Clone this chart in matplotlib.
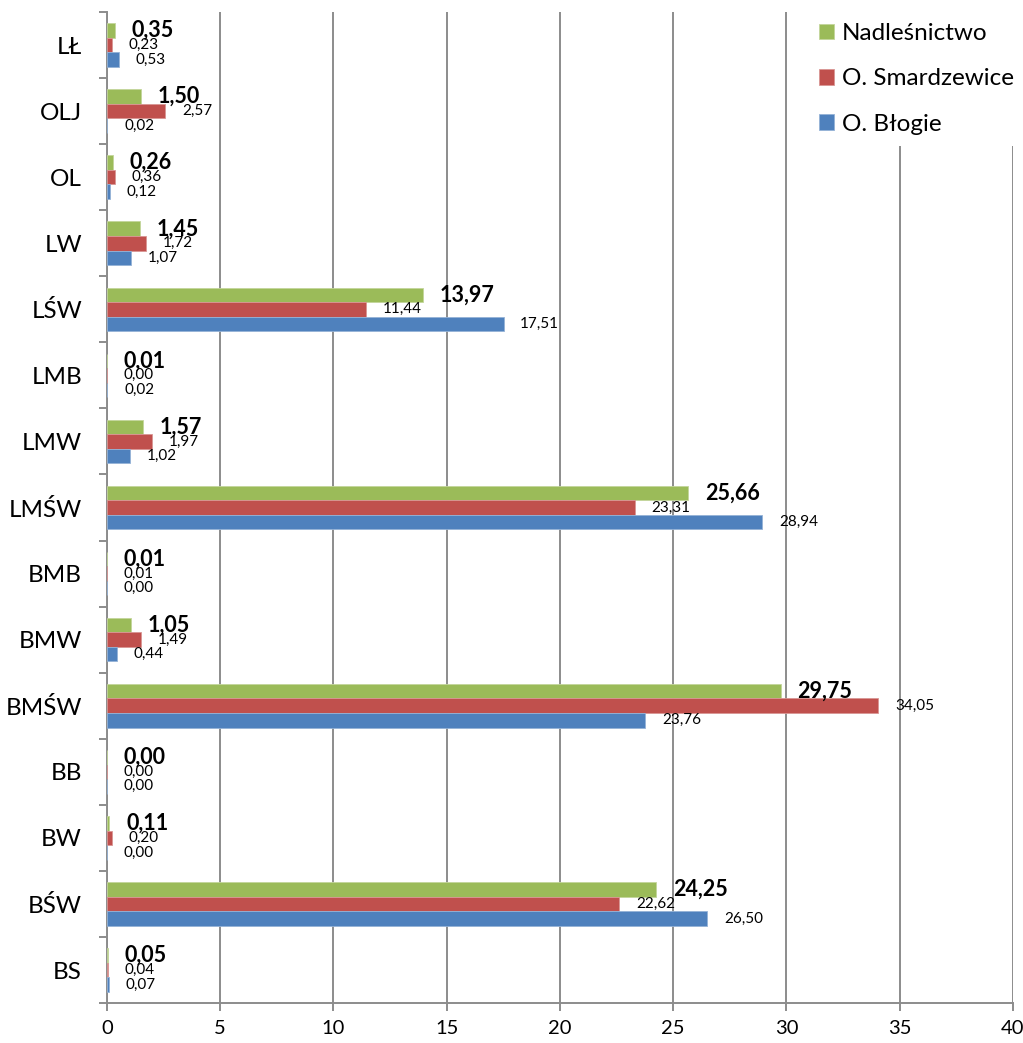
import numpy as np
import matplotlib.pyplot as plt

plt.rcParams['font.family'] = ['Lato', 'DejaVu Sans']

# categories, bottom to top
categories = ['BS', 'BŚW', 'BW', 'BB', 'BMŚW', 'BMW', 'BMB', 'LMŚW',
              'LMW', 'LMB', 'LŚW', 'LW', 'OL', 'OLJ', 'LŁ']
nadlesnictwo = [0.05, 24.25, 0.11, 0.00, 29.75, 1.05, 0.01, 25.66,
                1.57, 0.01, 13.97, 1.45, 0.26, 1.50, 0.35]
smardzewice = [0.04, 22.62, 0.20, 0.00, 34.05, 1.49, 0.01, 23.31,
               1.97, 0.00, 11.44, 1.72, 0.36, 2.57, 0.23]
blogie = [0.07, 26.50, 0.00, 0.00, 23.76, 0.44, 0.00, 28.94,
          1.02, 0.02, 17.51, 1.07, 0.12, 0.02, 0.53]

green = '#9BBB59'
red = '#C0504D'
blue = '#4F81BD'
grid_c = '#8c8c8c'

fig = plt.figure(figsize=(10.23, 10.43), dpi=100)
ax = fig.add_axes([0.1046, 0.0383, 0.8856, 0.9502])

y = np.arange(len(categories))
h = 0.22

bg = ax.barh(y + h, nadlesnictwo, height=h, color=green, edgecolor='#c3d69b', linewidth=0.6, label='Nadleśnictwo', zorder=3)
br = ax.barh(y, smardzewice, height=h, color=red, edgecolor='#d99694', linewidth=0.6, label='O. Smardzewice', zorder=3)
bb = ax.barh(y - h, blogie, height=h, color=blue, edgecolor='#95b3d7', linewidth=0.6, label='O. Błogie', zorder=3)

def fmt(v):
    return f'{v:.2f}'.replace('.', ',')

for i in range(len(categories)):
    ax.annotate(fmt(nadlesnictwo[i]), (nadlesnictwo[i], y[i] + h), xytext=(12, 0),
                textcoords='offset points', ha='left', va='center',
                fontsize=15.5, fontweight='bold', zorder=5)
    ax.annotate(fmt(smardzewice[i]), (smardzewice[i], y[i]), xytext=(12, 0),
                textcoords='offset points', ha='left', va='center',
                fontsize=11, zorder=5)
    ax.annotate(fmt(blogie[i]), (blogie[i], y[i] - h), xytext=(12, 0),
                textcoords='offset points', ha='left', va='center',
                fontsize=11, zorder=5)

ax.set_xlim(0, 40)
ax.set_ylim(-0.5, len(categories) - 0.5)
ax.set_xticks(np.arange(0, 41, 5))
ax.set_yticks(y)
ax.set_yticklabels(categories, fontsize=17.5)
ax.set_yticks(np.arange(-0.5, len(categories), 1), minor=True)
ax.tick_params(axis='y', which='major', length=0, pad=18)
ax.tick_params(axis='y', which='minor', length=6, width=1.4, color=grid_c, direction='out')
ax.tick_params(axis='x', labelsize=14.5, length=6, width=1.4, color=grid_c, pad=6)

ax.grid(axis='x', color=grid_c, linewidth=1.4, zorder=0)
ax.set_axisbelow(True)
for s in ['top', 'right']:
    ax.spines[s].set_visible(False)
for s in ['left', 'bottom']:
    ax.spines[s].set_color(grid_c)
    ax.spines[s].set_linewidth(1.4)

leg = fig.legend(handles=[bg, br, bb], loc='upper left', bbox_to_anchor=(0.778, 1.0),
                 fontsize=17.5, frameon=True, facecolor='white', edgecolor='none',
                 framealpha=1, fancybox=False, handlelength=0.6, handleheight=0.6,
                 handletextpad=0.35, labelspacing=1.0, borderpad=0.45)
leg.set_zorder(10)

fig.savefig('out.png', dpi=100)
